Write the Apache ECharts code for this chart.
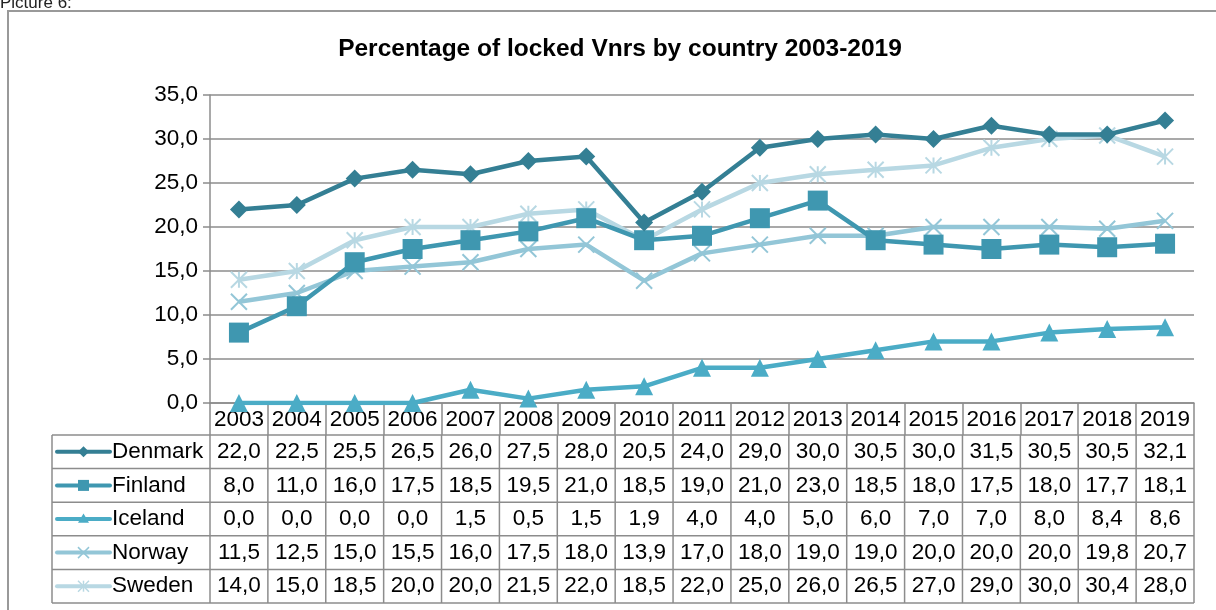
<!doctype html>
<html>
  <head>
    <meta charset="UTF-8" />
    <title>Percentage of locked Vnrs by country 2003-2019</title>
    <script src="https://cdn.jsdelivr.net/npm/echarts@6/dist/echarts.min.js"></script>
    <style>
      html, body { margin: 0; padding: 0; background: #fff; }
      #main { width: 1216px; height: 610px; }
    </style>
  </head>
  <body>
    <div id="main"></div>
    <script>
      // data
      const years = ["2003", "2004", "2005", "2006", "2007", "2008", "2009", "2010", "2011",
        "2012", "2013", "2014", "2015", "2016", "2017", "2018", "2019"];
      const denmark = [22.0, 22.5, 25.5, 26.5, 26.0, 27.5, 28.0, 20.5, 24.0, 29.0, 30.0, 30.5, 30.0, 31.5, 30.5, 30.5, 32.1];
      const finland = [8.0, 11.0, 16.0, 17.5, 18.5, 19.5, 21.0, 18.5, 19.0, 21.0, 23.0, 18.5, 18.0, 17.5, 18.0, 17.7, 18.1];
      const iceland = [0.0, 0.0, 0.0, 0.0, 1.5, 0.5, 1.5, 1.9, 4.0, 4.0, 5.0, 6.0, 7.0, 7.0, 8.0, 8.4, 8.6];
      const norway = [11.5, 12.5, 15.0, 15.5, 16.0, 17.5, 18.0, 13.9, 17.0, 18.0, 19.0, 19.0, 20.0, 20.0, 20.0, 19.8, 20.7];
      const sweden = [14.0, 15.0, 18.5, 20.0, 20.0, 21.5, 22.0, 18.5, 22.0, 25.0, 26.0, 26.5, 27.0, 29.0, 30.0, 30.4, 28.0];

      const countries = ["Denmark", "Finland", "Iceland", "Norway", "Sweden"];
      const values = [denmark, finland, iceland, norway, sweden];
      const colors = ["#347f94", "#3f97b0", "#4bacc6", "#93c6d7", "#b8d8e3"];

      const FONT = "'Liberation Sans', Arial, sans-serif";
      const FS = 22.5;
      const GRAY = "#8c8c8c";
      const fmt = (v) => v.toFixed(1).replace(".", ",");

      const crossPath = "path://M0,0L10,10M0,10L10,0";
      const starPath = "path://M5,0L5,10M0,0L10,10M0,10L10,0";
      const symbols = ["diamond", "rect", "triangle", crossPath, starPath];
      const sizes = [18, 20, 18, 16, 16];

      const chart = echarts.init(document.getElementById("main"));

      const series = countries.map((name, i) => {
        const stroked = i >= 3;
        return {
          name: name,
          type: "line",
          data: values[i],
          symbol: symbols[i],
          symbolSize: sizes[i],
          lineStyle: { color: colors[i], width: 4.5 },
          itemStyle: stroked
            ? { color: "rgba(0,0,0,0)", borderColor: colors[i], borderWidth: 2 }
            : { color: colors[i] },
          emphasis: { disabled: true },
          z: 10 - i,
        };
      });

      const option = {
        animation: false,
        title: {
          text: "Percentage of locked Vnrs by country 2003-2019",
          left: 615,
          textAlign: "center",
          top: 32,
          textStyle: { fontFamily: FONT, fontSize: 24.5, fontWeight: "bold", color: "#000" },
        },
        grid: { left: 210, right: 22, top: 95, bottom: 207 },
        xAxis: {
          type: "category",
          data: years,
          boundaryGap: true,
          axisLine: { lineStyle: { color: GRAY, width: 1.5 } },
          axisTick: { show: true, length: 32, interval: 0, lineStyle: { color: GRAY, width: 1.5 } },
          axisLabel: { interval: 0, margin: 5, fontFamily: FONT, fontSize: FS, color: "#000" },
          splitLine: { show: false },
        },
        yAxis: {
          type: "value",
          min: 0,
          max: 35,
          interval: 5,
          axisLine: { show: true, lineStyle: { color: GRAY, width: 1.5 } },
          axisTick: { show: true, length: 7, lineStyle: { color: GRAY, width: 1.5 } },
          axisLabel: { margin: 12, fontFamily: FONT, fontSize: FS, color: "#000", formatter: fmt },
          splitLine: { lineStyle: { color: GRAY, width: 1.5 } },
        },
        series: series,
      };

      chart.setOption(option);

      // data table under the plot, aligned with the category axis
      const c0 = chart.convertToPixel({ xAxisIndex: 0 }, 0);
      const c1 = chart.convertToPixel({ xAxisIndex: 0 }, 1);
      const cw = c1 - c0;
      const xl = c0 - cw / 2;
      const xr = xl + cw * years.length;
      const y0 = chart.convertToPixel({ yAxisIndex: 0 }, 0);
      const tableTop = y0 + 32;
      const rowH = 33.6;
      const legendLeft = 52;

      const els = [];
      const lineStyle = { stroke: GRAY, lineWidth: 1.5 };

      // outer frame
      els.push({ type: "rect", shape: { x: 8, y: 11, width: 1240, height: 640 },
        style: { fill: "none", stroke: "#999", lineWidth: 2 }, silent: true, z: 0 });
      els.push({ type: "text", x: 0, y: -5,
        style: { text: "Picture 6:", font: "17px " + FONT, fill: "#222" }, silent: true });

      for (let r = 0; r <= countries.length; r++) {
        const y = tableTop + r * rowH;
        els.push({ type: "line", shape: { x1: legendLeft, y1: y, x2: xr, y2: y }, style: lineStyle, silent: true });
      }
      const tableBottom = tableTop + countries.length * rowH;
      els.push({ type: "line", shape: { x1: legendLeft, y1: tableTop, x2: legendLeft, y2: tableBottom }, style: lineStyle, silent: true });
      for (let c = 0; c <= years.length; c++) {
        const x = xl + c * cw;
        els.push({ type: "line", shape: { x1: x, y1: tableTop, x2: x, y2: tableBottom }, style: lineStyle, silent: true });
      }

      // little legend key drawn in the first column of each row
      function markerShapes(i, cx, cy) {
        const col = colors[i];
        const s = 5.5;
        if (i === 0) {
          return [{ type: "polygon", shape: { points: [[cx, cy - s], [cx + s, cy], [cx, cy + s], [cx - s, cy]] }, style: { fill: col } }];
        }
        if (i === 1) {
          return [{ type: "rect", shape: { x: cx - s, y: cy - s, width: 2 * s, height: 2 * s }, style: { fill: col } }];
        }
        if (i === 2) {
          return [{ type: "polygon", shape: { points: [[cx, cy - s], [cx + s, cy + s * 0.7], [cx - s, cy + s * 0.7]] }, style: { fill: col } }];
        }
        const st = { stroke: col, lineWidth: 1.5 };
        const out = [
          { type: "line", shape: { x1: cx - s, y1: cy - s, x2: cx + s, y2: cy + s }, style: st },
          { type: "line", shape: { x1: cx - s, y1: cy + s, x2: cx + s, y2: cy - s }, style: st },
        ];
        if (i === 4) out.push({ type: "line", shape: { x1: cx, y1: cy - s, x2: cx, y2: cy + s }, style: st });
        return out;
      }

      countries.forEach((name, i) => {
        const cy = tableTop + i * rowH + rowH / 2;
        els.push({ type: "line", shape: { x1: 57, y1: cy, x2: 110, y2: cy },
          style: { stroke: colors[i], lineWidth: 4, lineCap: "round" }, silent: true });
        markerShapes(i, 83.5, cy).forEach((m) => {
          m.silent = true;
          m.z = 2;
          els.push(m);
        });
        els.push({ type: "text", x: 112, y: cy,
          style: { text: name, font: FS + "px " + FONT, fill: "#000", verticalAlign: "middle", align: "left" }, silent: true });
        values[i].forEach((v, c) => {
          els.push({ type: "text", x: xl + c * cw + cw / 2, y: cy,
            style: { text: fmt(v), font: FS + "px " + FONT, fill: "#000", align: "center", verticalAlign: "middle" }, silent: true });
        });
      });

      chart.setOption({ graphic: { elements: els } });
    </script>
  </body>
</html>
